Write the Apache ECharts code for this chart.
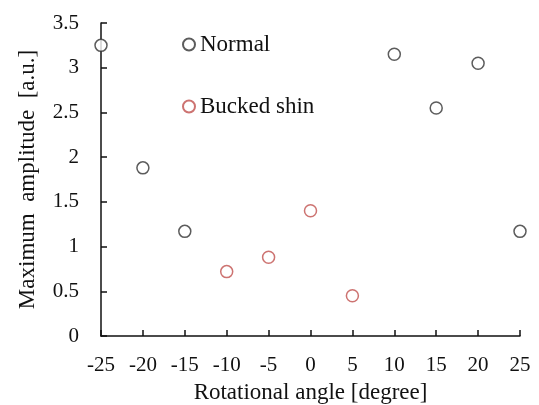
<!DOCTYPE html>
<html>
<head>
<meta charset="utf-8">
<script src="https://cdn.jsdelivr.net/npm/echarts@6/dist/echarts.min.js"></script>
<style>
  html, body { margin: 0; padding: 0; background: #fff; }
  #chart { width: 539px; height: 405px; }
</style>
</head>
<body>
<div id="chart"></div>
<script>
// scatter: max amplitude vs rotational angle
const normalAngles = [-25, -20, -15, 10, 15, 20, 25];
const normalValues = [3.25, 1.88, 1.17, 3.15, 2.55, 3.05, 1.17];
const buckedAngles = [-10, -5, 0, 5];
const buckedValues = [0.72, 0.88, 1.40, 0.45];

const font = '"Liberation Serif", "Times New Roman", serif';

function pairs(xs, ys) {
    return xs.map((x, i) => [x, ys[i]]);
}

const chart = echarts.init(document.getElementById('chart'));

const option = {
    backgroundColor: '#fff',
    animation: false,
    grid: { left: 101, right: 19, top: 23, bottom: 69, outerBoundsMode: 'none' },
    legend: {
        orient: 'vertical',
        left: 177,
        top: 28,
        itemGap: 39,
        itemWidth: 12,
        itemHeight: 12,
        textStyle: { fontFamily: font, fontSize: 23, color: '#111' },
        data: ['Normal', 'Bucked shin']
    },
    xAxis: {
        type: 'value',
        min: -25,
        max: 25,
        interval: 5,
        name: 'Rotational angle [degree]',
        nameLocation: 'middle',
        nameGap: 45,
        nameTextStyle: { fontFamily: font, fontSize: 23, color: '#111' },
        axisLine: { lineStyle: { color: '#111', width: 1.5 } },
        axisTick: { inside: true, length: 6, lineStyle: { color: '#111', width: 1.5 } },
        axisLabel: { fontFamily: font, fontSize: 21, color: '#111', margin: 19 },
        splitLine: { show: false }
    },
    yAxis: {
        type: 'value',
        min: 0,
        max: 3.5,
        interval: 0.5,
        name: 'Maximum  amplitude  [a.u.]',
        nameLocation: 'middle',
        nameGap: 62,
        nameTextStyle: { fontFamily: font, fontSize: 23, color: '#111' },
        axisLine: { show: true, onZero: false, lineStyle: { color: '#111', width: 1.5 } },
        axisTick: { show: true, inside: true, length: 6, lineStyle: { color: '#111', width: 1.5 } },
        axisLabel: { fontFamily: font, fontSize: 21, color: '#111', margin: 22 },
        splitLine: { show: false }
    },
    series: [
        {
            name: 'Normal',
            type: 'scatter',
            symbol: 'circle',
            symbolSize: 12,
            itemStyle: { color: '#fff', borderColor: '#333', borderWidth: 1.5 },
            data: pairs(normalAngles, normalValues)
        },
        {
            name: 'Bucked shin',
            type: 'scatter',
            symbol: 'circle',
            symbolSize: 12,
            itemStyle: { color: '#fff', borderColor: '#c0504d', borderWidth: 1.5 },
            data: pairs(buckedAngles, buckedValues)
        }
    ]
};

chart.setOption(option);
</script>
</body>
</html>
